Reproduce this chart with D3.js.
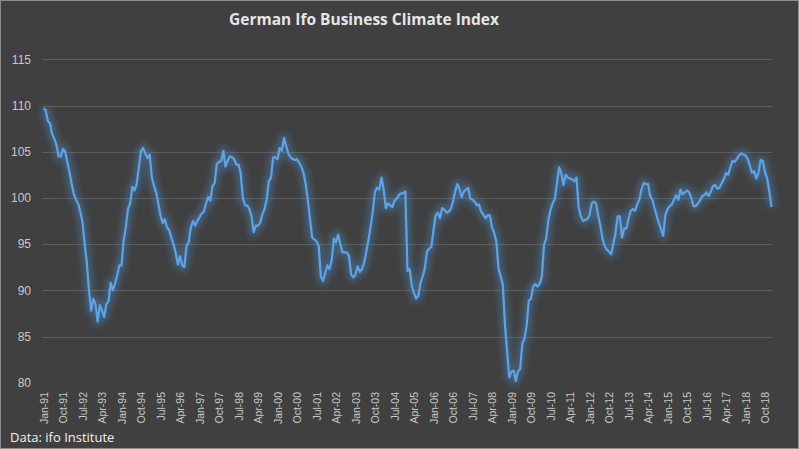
<!DOCTYPE html>
<html>
<head>
<meta charset="utf-8">
<script src="https://cdn.jsdelivr.net/npm/d3@7"></script>
<style>
  html, body { margin: 0; padding: 0; background: #404040; }
  svg { display: block; }
</style>
</head>
<body>
<div id="chart"></div>
<script>
// ---- Data (monthly, Jan-91 .. Jan-19) ----
const startMonth = "1991-01";
const ifoValues = [
  109.7,109.5,108.3,108.1,106.9,106.4,105.7,104.5,104.5,105.3,105.0,103.9,
  102.8,101.5,100.4,99.8,99.4,98.5,97.4,95.0,93.0,90.0,87.8,89.1,
  88.5,86.6,88.4,87.8,87.1,88.5,88.8,90.8,90.0,90.7,91.6,92.7,
  92.7,95.4,96.8,98.8,99.4,101.2,100.8,101.5,103.3,105.1,105.4,104.8,
  104.3,104.7,102.2,101.3,100.6,99.4,98.1,97.3,97.7,96.8,96.5,95.7,
  95.0,94.1,92.8,93.7,92.7,92.5,94.8,95.2,96.8,97.5,97.0,97.5,
  97.9,98.3,98.5,99.4,100.1,99.7,101.3,101.6,103.7,103.9,104.0,105.1,
  103.4,104.0,104.5,104.4,104.2,103.6,103.6,102.7,100.0,99.2,99.2,98.8,
  98.0,96.3,97.0,97.0,97.3,98.2,98.8,99.8,101.8,102.2,104.4,104.4,
  104.2,105.4,105.1,106.5,105.6,104.8,104.4,104.2,104.1,104.2,103.8,103.4,
  102.7,101.5,99.8,97.7,95.7,95.5,95.3,94.8,91.5,91.0,91.8,92.7,
  92.3,93.2,95.6,95.2,96.0,95.0,94.1,94.1,94.1,93.7,91.7,91.4,
  91.7,92.6,92.0,92.3,93.0,94.2,95.5,96.9,98.6,100.7,101.1,100.9,
  102.2,100.9,98.9,99.4,99.2,99.0,99.7,99.9,100.3,100.5,100.5,100.7,
  92.1,92.3,90.5,89.7,89.1,89.4,90.8,91.5,92.4,94.2,94.5,94.7,
  96.5,98.1,98.4,97.8,98.9,98.7,98.4,98.5,98.8,99.6,100.7,101.5,
  101.0,100.1,100.7,100.9,101.1,99.9,99.8,99.6,99.2,99.3,98.5,98.2,
  97.8,98.1,98.1,96.8,96.2,95.3,92.4,91.5,90.6,86.2,83.3,80.6,
  81.2,81.3,80.2,81.2,81.5,84.2,84.8,86.2,88.9,89.1,90.4,90.7,
  90.4,90.7,91.5,94.9,95.6,97.6,98.7,99.4,99.9,101.6,103.3,102.7,
  101.4,102.5,102.2,102.1,102.0,101.8,102.2,99.0,98.0,97.5,97.6,97.7,
  98.1,99.4,99.6,99.4,98.1,97.0,95.6,94.8,94.4,94.2,93.9,95.0,
  96.2,98.0,98.0,95.7,96.7,96.7,97.7,98.6,98.8,98.6,99.3,99.8,
  100.9,101.6,101.5,101.5,100.2,99.8,98.9,98.1,97.3,96.6,95.9,98.1,
  98.8,99.1,99.3,99.8,100.3,99.8,100.9,100.4,100.6,100.8,100.6,100.0,
  99.1,99.1,99.4,99.7,100.2,100.3,100.6,100.2,100.7,101.3,101.4,101.0,
  101.1,101.6,102.0,102.7,102.5,103.3,104.0,103.9,104.2,104.6,104.8,104.7,
  104.6,104.2,103.5,102.7,102.9,102.1,102.7,104.1,104.0,102.8,102.1,100.7,
  99.0
];
const xTickLabels = ["Jan-91","Oct-91","Jul-92","Apr-93","Jan-94","Oct-94","Jul-95","Apr-96",
  "Jan-97","Oct-97","Jul-98","Apr-99","Jan-00","Oct-00","Jul-01","Apr-02","Jan-03","Oct-03",
  "Jul-04","Apr-05","Jan-06","Oct-06","Jul-07","Apr-08","Jan-09","Oct-09","Jul-10","Apr-11",
  "Jan-12","Oct-12","Jul-13","Apr-14","Jan-15","Oct-15","Jul-16","Apr-17","Jan-18","Oct-18"];
const yTicks = [80, 85, 90, 95, 100, 105, 110, 115];
const titleText = "German Ifo Business Climate Index";
const sourceText = "Data: ifo Institute";

// ---- Categories ----
const fmt = d3.timeFormat("%b-%y");
const start = d3.timeParse("%Y-%m")(startMonth);
const categories = ifoValues.map((v, i) => fmt(d3.timeMonth.offset(start, i)));

const W = 799, H = 449;
const svg = d3.select("#chart").append("svg").attr("width", W).attr("height", H);

svg.append("rect").attr("x", 0.5).attr("y", 0.5).attr("width", W - 1).attr("height", H - 1)
  .attr("fill", "#404040").attr("stroke", "#8c8c8c").attr("stroke-width", 1);

const x = d3.scalePoint().domain(categories).range([43.5, 771.5]);
const y = d3.scaleLinear().domain([80, 115]).range([382.7, 59.3]);

// gridlines
svg.append("g").selectAll("line").data(yTicks.filter(t => t > 80)).join("line")
  .attr("x1", 42.5).attr("x2", 772.5)
  .attr("y1", d => Math.round(y(d)) + 0.5).attr("y2", d => Math.round(y(d)) + 0.5)
  .attr("stroke", "#5d5d5d").attr("stroke-width", 1);

// y axis
const yAxis = svg.append("g").attr("transform", "translate(31,0)")
  .call(d3.axisLeft(y).tickValues(yTicks).tickSize(0).tickPadding(0));
yAxis.select(".domain").remove();
yAxis.selectAll("text").attr("fill", "#c8c8c8")
  .style("font-family", "'Liberation Sans', Arial, sans-serif").style("font-size", "12px");

// x axis
const xAxis = svg.append("g").attr("transform", "translate(0,389)")
  .call(d3.axisBottom(x).tickValues(xTickLabels).tickSize(0).tickPadding(0));
xAxis.select(".domain").remove();
xAxis.selectAll("text")
  .attr("fill", "#c8c8c8")
  .style("font-family", "'Liberation Sans', Arial, sans-serif").style("font-size", "10.5px")
  .attr("text-anchor", "end")
  .attr("transform", "rotate(-90)")
  .attr("x", -3).attr("y", 0).attr("dy", "0.35em");

// glow filter
const defs = svg.append("defs");
const f = defs.append("filter").attr("id", "glow")
  .attr("x", "-10%").attr("y", "-10%").attr("width", "120%").attr("height", "120%");
f.append("feGaussianBlur").attr("stdDeviation", 3);

const line = d3.line().x((d, i) => x(categories[i])).y(d => y(d));

svg.append("path").datum(ifoValues).attr("d", line)
  .attr("fill", "none").attr("stroke", "#4a86bf").attr("stroke-opacity", 0.45)
  .attr("stroke-width", 9).attr("stroke-linejoin", "round").attr("filter", "url(#glow)");

svg.append("path").datum(ifoValues).attr("d", line)
  .attr("fill", "none").attr("stroke", "#5ea3e3").attr("stroke-width", 2.2)
  .attr("stroke-linejoin", "round");

// title
svg.append("text").attr("x", 364).attr("y", 25).attr("text-anchor", "middle")
  .attr("fill", "#e6e6e6").style("font-family", "'Open Sans', 'Liberation Sans', sans-serif")
  .style("font-weight", "bold").style("font-size", "15.5px").text(titleText);

// source
svg.append("text").attr("x", 10).attr("y", 442)
  .attr("fill", "#f2f2f2").style("font-family", "'Open Sans', 'Liberation Sans', sans-serif")
  .style("font-size", "13px").text(sourceText);
</script>
</body>
</html>
